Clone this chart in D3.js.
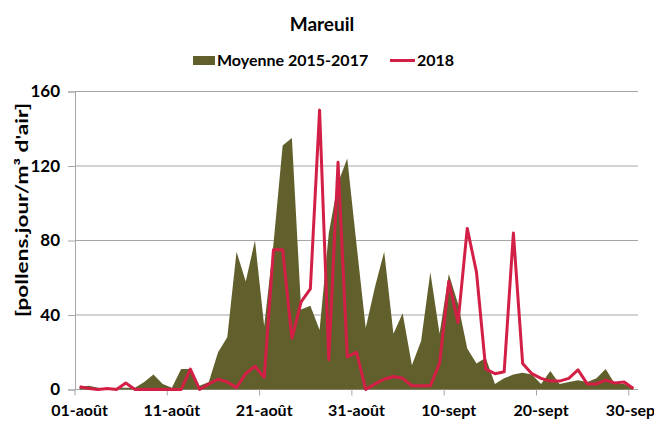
<!DOCTYPE html>
<html>
<head>
<meta charset="utf-8">
<script src="https://cdn.jsdelivr.net/npm/d3@7"></script>
<style>
  body { margin: 0; background: #fff; }
  svg { display: block; font-family: Lato, "Open Sans", sans-serif; font-weight: bold; }
</style>
</head>
<body>
<script>
// daily pollen counts, 01-août to 30-sept
var days = d3.timeDay.range(new Date(2018, 7, 1), new Date(2018, 9, 1));

var moyenne = [1.5, 2, 1, 0.5, 1, 1, 1, 4, 8, 3,
  1, 11, 11, 2, 4, 20, 28, 74, 58, 80,
  34, 78, 131, 135, 43, 45, 32, 84, 111, 124,
  78, 33, 55, 74, 30, 41, 13, 26, 63, 30,
  62, 46, 22, 14, 17, 3, 6, 8, 9, 8,
  3, 10, 3, 4, 5, 4, 6, 11, 3, 3,
  1];

var y2018 = [1.5, 0.5, 0, 0.5, 0, 3.5, 0, 0, 0, 0,
  0, 0, 11, 0, 3, 5.5, 4, 1, 8.5, 12.5,
  6.5, 75, 75, 27.5, 47, 54, 150, 16, 122, 17.5,
  20, 0, 3, 5.5, 7, 6, 2, 2, 2, 14,
  58, 36, 86.5, 63, 11, 8.5, 9.5, 84, 14, 8.5,
  6, 4.5, 4.5, 6, 10.5, 3, 3, 5, 3.5, 4,
  0.5];

var tickIndex = [0, 10, 20, 30, 40, 50, 60];
var tickLabels = ["01-août", "11-août", "21-août", "31-août", "10-sept", "20-sept", "30-sept"];
var yTicks = [0, 40, 80, 120, 160];

var W = 654, H = 423;
var plotLeft = 75, plotRight = 638, plotTop = 91.5, plotBottom = 389.5;

var svg = d3.select("body").append("svg")
    .attr("width", W)
    .attr("height", H);

var x = d3.scaleBand()
    .domain(d3.range(days.length))
    .range([plotLeft, plotRight])
    .padding(0);
var cx = function(i) { return x(i) + x.bandwidth() / 2; };

var y = d3.scaleLinear()
    .domain([0, 160])
    .range([plotBottom, plotTop]);

// grid lines
svg.append("g")
  .selectAll("line")
  .data(yTicks)
  .enter().append("line")
    .attr("x1", plotLeft)
    .attr("x2", plotRight)
    .attr("y1", function(d) { return y(d); })
    .attr("y2", function(d) { return y(d); })
    .attr("stroke", "#a6a6a6")
    .attr("stroke-width", 1);

// area for the 2015-2017 mean
var area = d3.area()
    .x(function(d, i) { return cx(i); })
    .y0(y(0))
    .y1(function(d) { return y(d); });

svg.append("path")
    .datum(moyenne)
    .attr("fill", "#615f2b")
    .attr("d", area);

// y axis
var yAxis = svg.append("g")
    .attr("transform", "translate(" + plotLeft + ",0)")
    .call(d3.axisLeft(y).tickValues(yTicks).tickSize(7).tickPadding(8));
yAxis.select(".domain").attr("stroke", "#a6a6a6");
yAxis.selectAll(".tick line").attr("stroke", "#a6a6a6");
yAxis.selectAll("text")
    .attr("font-family", "Lato, sans-serif")
    .attr("font-weight", "bold")
    .attr("font-size", 17)
    .attr("fill", "#000");

// x axis: tick marks at category boundaries, labels centred on categories
svg.append("g")
  .selectAll("line")
  .data(tickIndex)
  .enter().append("line")
    .attr("x1", function(d) { return x(d); })
    .attr("x2", function(d) { return x(d); })
    .attr("y1", plotBottom)
    .attr("y2", plotBottom + 6)
    .attr("stroke", "#a6a6a6");

svg.append("g")
  .selectAll("text")
  .data(tickIndex)
  .enter().append("text")
    .attr("x", function(d) { return cx(d); })
    .attr("y", 416)
    .attr("text-anchor", "middle")
    .attr("font-size", 16)
    .text(function(d, i) { return tickLabels[i]; });

// 2018 line
var line = d3.line()
    .x(function(d, i) { return cx(i); })
    .y(function(d) { return y(d); });

svg.append("path")
    .datum(y2018)
    .attr("fill", "none")
    .attr("stroke", "#d31f45")
    .attr("stroke-width", 3)
    .attr("stroke-linejoin", "round")
    .attr("d", line);

// title
svg.append("text")
    .attr("x", 322)
    .attr("y", 31)
    .attr("text-anchor", "middle")
    .attr("font-size", 19)
    .text("Mareuil");

// legend
svg.append("rect")
    .attr("x", 193)
    .attr("y", 56)
    .attr("width", 22)
    .attr("height", 9)
    .attr("fill", "#615f2b");
svg.append("text")
    .attr("x", 217)
    .attr("y", 66)
    .attr("font-size", 16)
    .text("Moyenne 2015-2017");
svg.append("line")
    .attr("x1", 390)
    .attr("x2", 415)
    .attr("y1", 60.5)
    .attr("y2", 60.5)
    .attr("stroke", "#d31f45")
    .attr("stroke-width", 3);
svg.append("text")
    .attr("x", 417)
    .attr("y", 66)
    .attr("font-size", 16)
    .text("2018");

// y axis title
svg.append("text")
    .attr("transform", "translate(28,210) rotate(-90)")
    .attr("text-anchor", "middle")
    .attr("font-size", 17)
    .attr("textLength", 214)
    .attr("lengthAdjust", "spacingAndGlyphs")
    .text("[pollens.jour/m³ d'air]");
</script>
</body>
</html>
